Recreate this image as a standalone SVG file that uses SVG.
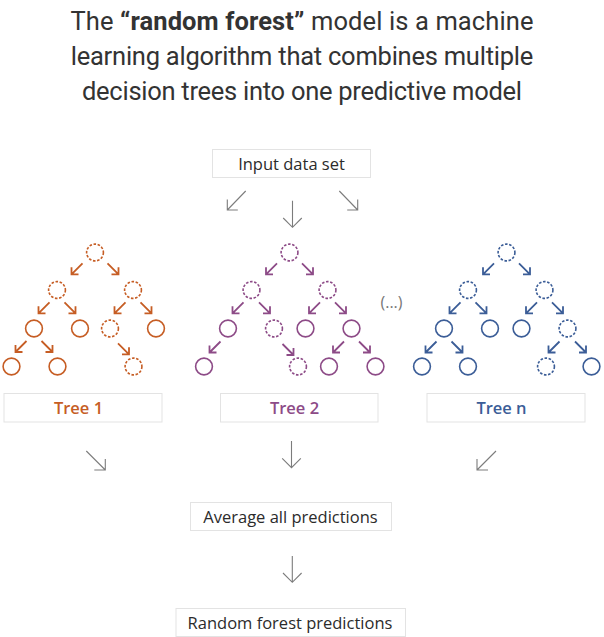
<svg xmlns="http://www.w3.org/2000/svg" xmlns:xlink="http://www.w3.org/1999/xlink" width="604" height="637" viewBox="0 0 604 637">
  <style>
    .title { font-family: Roboto, "Open Sans", "Liberation Sans", sans-serif; font-size: 25.5px; fill: #333; text-anchor: middle; }
    .title .b { font-weight: 700; }
    .box { fill: #fff; stroke: #e3e3e3; stroke-width: 1; }
    .lbl { font-family: "Open Sans", "Liberation Sans", sans-serif; font-size: 16.5px; font-weight: 500; fill: #2b2b2b; text-anchor: middle; }
    .tl { font-weight: 600; }
    .dots { font-family: "Open Sans", "Liberation Sans", sans-serif; font-size: 16px; fill: #777; text-anchor: middle; }
    .flow { fill: none; stroke: #7c7c7c; stroke-width: 1.1; }
    .n { fill: none; stroke-width: 1.6; }
    .d { stroke-dasharray: 2.6 1.6; }
    .ta { fill: none; stroke-width: 1.8; }
    .t1 { stroke: #c65d24; }
    .t2 { stroke: #8d4b87; }
    .t3 { stroke: #3b5d97; }
    .c1 { fill: #c65d24; }
    .c2 { fill: #8d4b87; }
    .c3 { fill: #3b5d97; }
  </style>
  <defs>
    <!-- short split arrows used inside the trees -->
    <path id="adl" d="M5.5,-5.5 L-5.5,5.5 M-5.5,-1.5 V5.5 H1.5"/>
    <path id="adr" d="M-5.5,-5.5 L5.5,5.5 M5.5,-1.5 V5.5 H-1.5"/>
  </defs>

  <!-- heading -->
  <g id="heading">
    <text class="title" x="302" y="29.5" textLength="463">The <tspan class="b">“random forest”</tspan> model is a machine</text>
    <text class="title" x="302" y="64.5" textLength="462.5">learning algorithm that combines multiple</text>
    <text class="title" x="302" y="99.5" textLength="440">decision trees into one predictive model</text>
  </g>

  <!-- flow nodes -->
  <g id="input">
    <rect class="box" x="212.5" y="149.5" width="158" height="28"/>
    <text class="lbl" x="291.5" y="169.5">Input data set</text>
  </g>
  <g id="label-tree1">
    <rect class="box" x="4" y="393.5" width="158" height="28.5"/>
    <text class="lbl tl c1" x="78.5" y="414.3">Tree 1</text>
  </g>
  <g id="label-tree2">
    <rect class="box" x="220.5" y="393.5" width="157.5" height="28.5"/>
    <text class="lbl tl c2" x="294.5" y="414.3">Tree 2</text>
  </g>
  <g id="label-treen">
    <rect class="box" x="427" y="393.5" width="158" height="28.5"/>
    <text class="lbl tl c3" x="501.5" y="414.3">Tree n</text>
  </g>
  <g id="average">
    <rect class="box" x="190.5" y="502.5" width="201" height="28"/>
    <text class="lbl" x="290.5" y="522.5">Average all predictions</text>
  </g>
  <g id="result">
    <rect class="box" x="176" y="608.5" width="229.5" height="28"/>
    <text class="lbl" x="290" y="629.3">Random forest predictions</text>
  </g>
  <g id="more-trees">
    <text class="dots" x="391.5" y="307.5">(...)</text>
  </g>

  <!-- tree 1 -->
  <g id="tree1">
    <circle id="t1-root" class="n t1 d" cx="95" cy="252.5" r="8.4"/>
    <circle id="t1-l" class="n t1 d" cx="57" cy="290" r="8.4"/>
    <circle id="t1-r" class="n t1 d" cx="133" cy="290" r="8.4"/>
    <circle id="t1-ll" class="n t1" cx="34" cy="328.5" r="8.4"/>
    <circle id="t1-lr" class="n t1" cx="80" cy="328.5" r="8.4"/>
    <circle id="t1-rl" class="n t1 d" cx="110" cy="328.5" r="8.4"/>
    <circle id="t1-rr" class="n t1" cx="156" cy="328.5" r="8.4"/>
    <circle id="t1-lll" class="n t1" cx="11.5" cy="366.5" r="8.4"/>
    <circle id="t1-llr" class="n t1" cx="57.5" cy="366.5" r="8.4"/>
    <circle id="t1-rlr" class="n t1 d" cx="133.5" cy="366.5" r="8.4"/>
  </g>

  <!-- tree 2 -->
  <g id="tree2">
    <circle id="t2-root" class="n t2 d" cx="289.5" cy="252.5" r="8.4"/>
    <circle id="t2-l" class="n t2 d" cx="251.5" cy="290" r="8.4"/>
    <circle id="t2-r" class="n t2 d" cx="327.5" cy="290" r="8.4"/>
    <circle id="t2-ll" class="n t2" cx="228" cy="328.5" r="8.4"/>
    <circle id="t2-lr" class="n t2 d" cx="274" cy="328.5" r="8.4"/>
    <circle id="t2-rl" class="n t2" cx="305.5" cy="328.5" r="8.4"/>
    <circle id="t2-rr" class="n t2" cx="351.5" cy="328.5" r="8.4"/>
    <circle id="t2-lll" class="n t2" cx="204" cy="366.5" r="8.4"/>
    <circle id="t2-lrr" class="n t2 d" cx="298" cy="366.5" r="8.4"/>
    <circle id="t2-rrl" class="n t2" cx="329" cy="366.5" r="8.4"/>
    <circle id="t2-rrr" class="n t2" cx="375.5" cy="366.5" r="8.4"/>
  </g>

  <!-- tree n -->
  <g id="treen">
    <circle id="tn-root" class="n t3 d" cx="506.5" cy="252.5" r="8.4"/>
    <circle id="tn-l" class="n t3 d" cx="468" cy="290" r="8.4"/>
    <circle id="tn-r" class="n t3 d" cx="544.5" cy="290" r="8.4"/>
    <circle id="tn-ll" class="n t3" cx="444" cy="328.5" r="8.4"/>
    <circle id="tn-lr" class="n t3" cx="490" cy="328.5" r="8.4"/>
    <circle id="tn-rl" class="n t3" cx="521.5" cy="328.5" r="8.4"/>
    <circle id="tn-rr" class="n t3 d" cx="567.5" cy="328.5" r="8.4"/>
    <circle id="tn-lll" class="n t3" cx="422" cy="366.5" r="8.4"/>
    <circle id="tn-llr" class="n t3" cx="468" cy="366.5" r="8.4"/>
    <circle id="tn-rrl" class="n t3 d" cx="546" cy="366.5" r="8.4"/>
    <circle id="tn-rrr" class="n t3" cx="591.5" cy="366.5" r="8.4"/>
  </g>

  <!-- connectors -->
  <g id="connectors">
    <g class="ta t1">
      <use href="#adl" x="77" y="268.8"/>
      <use href="#adr" x="113" y="268.8"/>
      <use href="#adl" x="44" y="307.8"/>
      <use href="#adr" x="70" y="307.8"/>
      <use href="#adl" x="120" y="307.8"/>
      <use href="#adr" x="146" y="307.8"/>
      <use href="#adl" x="21" y="346.5"/>
      <use href="#adr" x="47" y="346.5"/>
      <use href="#adr" x="123.5" y="348.8"/>
    </g>
    <g class="ta t2">
      <use href="#adl" x="271.5" y="268.8"/>
      <use href="#adr" x="307.5" y="268.8"/>
      <use href="#adl" x="238" y="307.8"/>
      <use href="#adr" x="264.5" y="307.8"/>
      <use href="#adl" x="314.5" y="307.8"/>
      <use href="#adr" x="340.5" y="307.8"/>
      <use href="#adl" x="215" y="347"/>
      <use href="#adr" x="288" y="349.5"/>
      <use href="#adl" x="338.5" y="347"/>
      <use href="#adr" x="364.5" y="347"/>
    </g>
    <g class="ta t3">
      <use href="#adl" x="488.5" y="268.8"/>
      <use href="#adr" x="524.5" y="268.8"/>
      <use href="#adl" x="455" y="307.8"/>
      <use href="#adr" x="481" y="307.8"/>
      <use href="#adl" x="531.5" y="307.8"/>
      <use href="#adr" x="557.5" y="307.8"/>
      <use href="#adl" x="431" y="347"/>
      <use href="#adr" x="457" y="347"/>
      <use href="#adl" x="554" y="347"/>
      <use href="#adr" x="580.5" y="347"/>
    </g>
    <g class="flow">
      <!-- input to trees -->
      <path d="M245.7,191 L227.3,210 M227.3,199.5 V210 H237.8"/>
      <path d="M292.5,200.7 V227.3 M283.2,218 L292.5,227.3 L301.8,218"/>
      <path d="M339.3,191 L357.7,210 M357.7,199.5 V210 H347.2"/>
      <!-- trees to average -->
      <path d="M86.3,451 L105.3,470 M105.3,459 V470 H94.3"/>
      <path d="M291.5,441 V467.7 M282.2,458.4 L291.5,467.7 L300.8,458.4"/>
      <path d="M496,451 L477,470 M477,459 V470 H488"/>
      <!-- average to result -->
      <path d="M292.3,556 V582.3 M283,573 L292.3,582.3 L301.6,573"/>
    </g>
  </g>
</svg>
